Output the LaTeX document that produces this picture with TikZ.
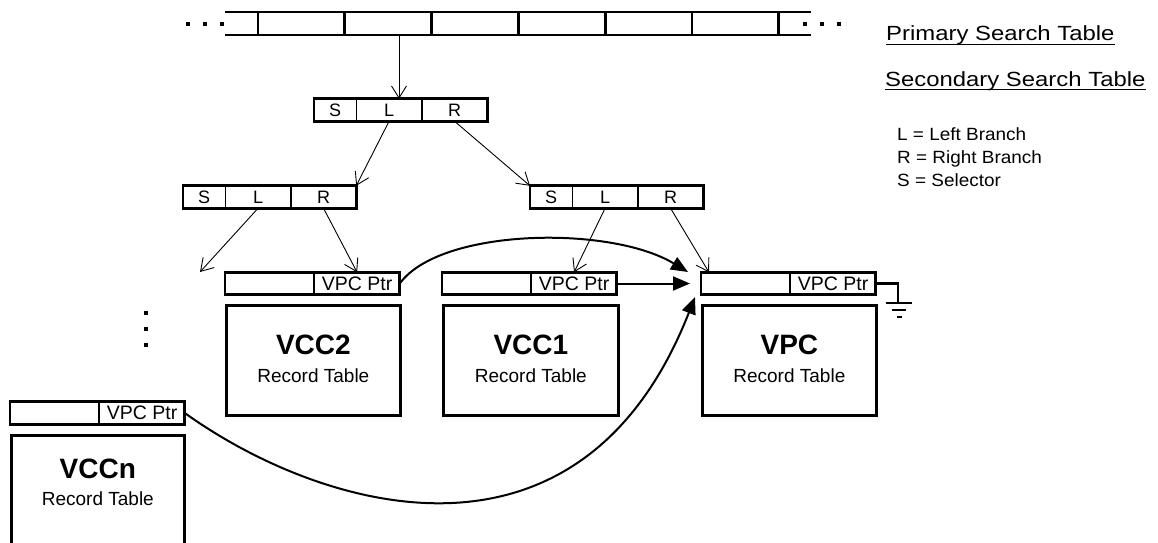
\documentclass[tikz,border=0pt]{standalone}
\usepackage{fontspec}
\setmainfont{Liberation Sans}
\newfontfamily\headfont[FakeStretch=1.165]{Liberation Sans}
\newfontfamily\legfont[FakeStretch=1.07]{Liberation Sans}
\usetikzlibrary{arrows.meta,calc}

\tikzset{
  frame/.style={draw, line width=2.7pt},
  divider/.style={line width=1.5pt},
  ptrdiv/.style={line width=2pt},
  cellnode/.style={inner sep=0pt, minimum height=22pt, font=\fontsize{18}{18}\selectfont},
  ptrcell/.style={inner sep=0pt, minimum height=22pt, font=\fontsize{19.5}{19.5}\selectfont},
  rectitle/.style={inner sep=0pt, anchor=base, font=\fontsize{28}{28}\selectfont\bfseries},
  recsub/.style={inner sep=0pt, anchor=base, font=\fontsize{19}{19}\selectfont},
  heading/.style={inner sep=0pt, anchor=base west, font=\headfont\fontsize{20.5}{20.5}\selectfont},
  legend/.style={inner sep=0pt, anchor=base west, font=\legfont\fontsize{17.7}{17.7}\selectfont},
  link/.style={line width=0.9pt, -{Straight Barb[length=12pt,width=15pt]}},
  vpclink/.style={line width=2pt, -{Triangle[length=17pt,width=14pt]}},
  earth/.style={line width=2.5pt},
}

% three-cell search table: name prefix, left x, centre y
\newcommand{\searchtable}[3]{%
  \node[cellnode, minimum width=42pt, anchor=west] (#1S) at (#2,#3) {S};
  \node[cellnode, minimum width=65pt, anchor=west] (#1L) at (#1S.east) {L};
  \node[cellnode, minimum width=65pt, anchor=west] (#1R) at (#1L.east) {R};
  \draw[divider] (#1S.north east) -- (#1S.south east)
                 (#1L.north east) -- (#1L.south east);
  \draw[frame] (#1S.north west) rectangle (#1R.south east);
}

% pointer row above a record table: name prefix, left x, centre y
\newcommand{\ptrrow}[3]{%
  \node[ptrcell, minimum width=89pt, anchor=west] (#1a) at (#2,#3) {};
  \node[ptrcell, minimum width=85pt, anchor=west] (#1b) at (#1a.east) {VPC Ptr};
  \draw[ptrdiv] (#1a.north east) -- (#1a.south east);
  \draw[frame] (#1a.north west) rectangle (#1b.south east);
}

% small square dot
\newcommand{\sqdot}[2]{\fill (#1-2,#2-2) rectangle (#1+2,#2+2);}

\begin{document}
\begin{tikzpicture}[x=1pt,y=-1pt]
\useasboundingbox (0,0) rectangle (1158,542);
\clip (0,0) rectangle (1158,542);

% primary search table (open ended)
\draw[frame] (225,12) -- (811,12) (225,35) -- (811,35);
\foreach \xx in {258,344.8,431.6,518.4,605.2,692,778.8}
  \draw[frame] (\xx,12) -- (\xx,35);
\sqdot{188}{24}\sqdot{205}{24}\sqdot{222}{24}
\sqdot{805}{24}\sqdot{822}{24}\sqdot{839}{24}
\coordinate (p0) at (399,35);

% secondary search tables
\searchtable{t0}{314}{110}
\searchtable{t1}{183}{197}
\searchtable{t2}{530}{197}

% pointer rows
\ptrrow{c2}{225}{283.5}
\ptrrow{c1}{442}{283.5}
\ptrrow{vp}{701}{283.5}
\ptrrow{cn}{10}{413}

% record tables
\node[frame, minimum width=174pt, minimum height=110pt, anchor=north west] (vcc2) at (225,304) {};
\node[frame, minimum width=175pt, minimum height=110pt, anchor=north west] (vcc1) at (442,304) {};
\node[frame, minimum width=174pt, minimum height=110pt, anchor=north west] (vpc) at (701,304) {};
\node[frame, minimum width=173pt, minimum height=130pt, anchor=north west] (vccn) at (10,434) {};

\node[rectitle] (vcc2n) at ($(vcc2.north)+(0,50)$) {VCC2};
\node[recsub]   (vcc2s) at ($(vcc2.north)+(0,78)$) {Record Table};
\node[rectitle] (vcc1n) at ($(vcc1.north)+(0,50)$) {VCC1};
\node[recsub]   (vcc1s) at ($(vcc1.north)+(0,78)$) {Record Table};
\node[rectitle] (vpcn)  at ($(vpc.north)+(0,50)$) {VPC};
\node[recsub]   (vpcs)  at ($(vpc.north)+(0,78)$) {Record Table};
\node[rectitle] (vccnn) at ($(vccn.north)+(0,44)$) {VCCn};
\node[recsub]   (vccns) at ($(vccn.north)+(0,71)$) {Record Table};

% more record tables between VCCn and VCC2
\sqdot{146}{313}\sqdot{146}{329}\sqdot{146}{345}

% ground on the VPC pointer
\coordinate (g) at (898,303);
\draw[earth] (vpb.east) -| (g);
\draw[earth] ($(g)+(-12.5,0)$) -- ($(g)+(13.5,0)$);
\draw[earth] ($(g)+(-6.5,7)$) -- ($(g)+(7.5,7)$);
\draw[earth] ($(g)+(-1.5,14)$) -- ($(g)+(3.5,14)$);

% tree branches
\coordinate (free) at (200,272);
\draw[link] (p0) -- (p0 |- t0L.north);
\draw[link] (t0L.south) -- (t1R.north east);
\draw[link] (t0R.south) -- (t2S.north west);
\draw[link] (t1L.south) -- (free);
\draw[link] (t1R.south) -- (c2b.north);
\draw[link] (t2L.south) -- (c1b.north);
\draw[link] (t2R.south) -- ($(vpa.north west)+(8,0)$);

% VPC pointers
\coordinate (in1) at (688,272);
\coordinate (in2) at (690,283.5);
\coordinate (in3) at (695,297);
\draw[vpclink] (c2b.east) .. controls (440,228) and (610,225) .. (in1);
\draw[vpclink] (c1b.east) -- (in2);
\draw[vpclink] (cnb.east) .. controls (320,510) and (580,590) .. (in3);

% legend
\node[heading] (h1) at (886,40.7) {Primary Search Table};
\draw[line width=1.6pt] ($(h1.base west)+(0,3.6)$) -- ($(h1.base east)+(0,3.6)$);
\node[heading] (h2) at (885,86) {Secondary Search Table};
\draw[line width=1.6pt] ($(h2.base west)+(0,3.6)$) -- ($(h2.base east)+(0,3.6)$);
\node[legend] (l1) at (897,140) {L = Left Branch};
\node[legend] (l2) at (897,163) {R = Right Branch};
\node[legend] (l3) at (897,186) {S = Selector};
\end{tikzpicture}
\end{document}
